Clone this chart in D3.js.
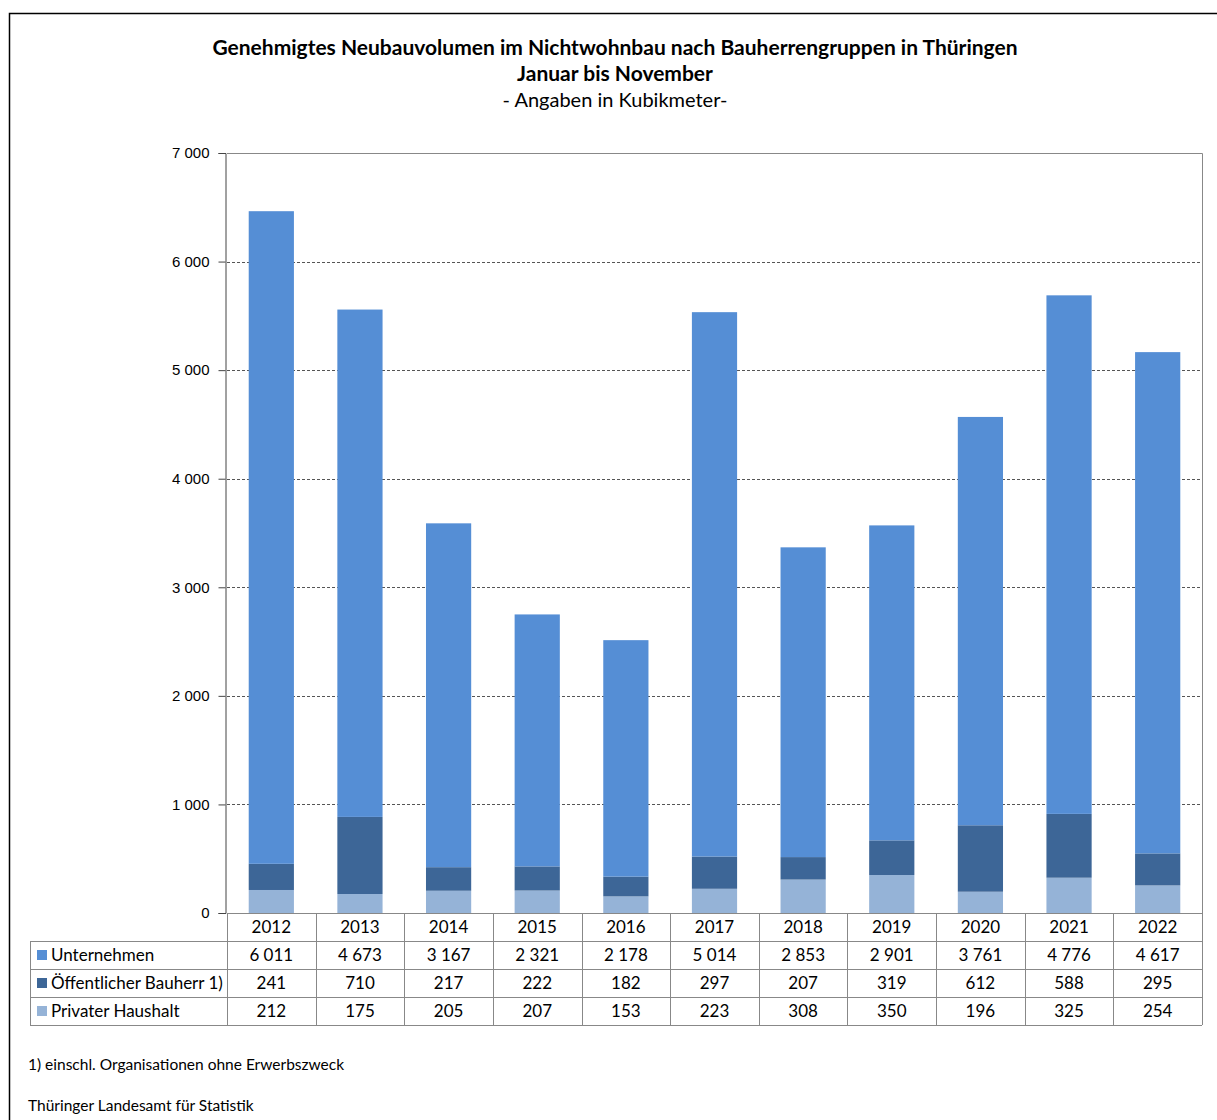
<!DOCTYPE html>
<html lang="de">
<head>
<meta charset="utf-8">
<title>Neubauvolumen Nichtwohnbau</title>
<script src="https://d3js.org/d3.v7.min.js"></script>
<style>
  body { margin: 0; background: #fff; }
  svg text { fill: #000; }
</style>
</head>
<body>
<div id="chart"></div>
<script>
// Data
var years = ["2012","2013","2014","2015","2016","2017","2018","2019","2020","2021","2022"];
var series = ["Privater Haushalt", "Öffentlicher Bauherr 1)", "Unternehmen"];
var unternehmen = [6011, 4673, 3167, 2321, 2178, 5014, 2853, 2901, 3761, 4776, 4617];
var oeffentlich = [241, 710, 217, 222, 182, 297, 207, 319, 612, 588, 295];
var privat = [212, 175, 205, 207, 153, 223, 308, 350, 196, 325, 254];
var yTicks = [0, 1000, 2000, 3000, 4000, 5000, 6000, 7000];

var colors = {
  "Unternehmen": "#558ed5",
  "Öffentlicher Bauherr 1)": "#3d6697",
  "Privater Haushalt": "#95b3d7"
};

var w = 1217, h = 1120;
var mLeft = 227, mRight = 1202, mTop = 153, mBottom = 913;
var rowH = 28;

var fmt = function(v) {
  return d3.format(",")(v).replace(/,/g, " ");
};

var svg = d3.select("#chart").append("svg")
  .attr("width", w).attr("height", h);

// outer frame
svg.append("rect")
  .attr("x", 9.5).attr("y", 13.5)
  .attr("width", w + 10).attr("height", h + 10)
  .attr("fill", "none").attr("stroke", "#000").attr("stroke-width", 1.5);

// titles
var calibri = "Lato, 'Open Sans', sans-serif";
svg.append("text").attr("x", 615).attr("y", 55).attr("text-anchor", "middle")
  .attr("font-family", calibri).attr("font-weight", "bold").attr("font-size", "21px")
  .text("Genehmigtes Neubauvolumen im Nichtwohnbau nach Bauherrengruppen in Thüringen");
svg.append("text").attr("x", 615).attr("y", 81).attr("text-anchor", "middle")
  .attr("font-family", calibri).attr("font-weight", "bold").attr("font-size", "21px")
  .text("Januar bis November");
svg.append("text").attr("x", 615).attr("y", 107).attr("text-anchor", "middle")
  .attr("font-family", calibri).attr("font-size", "20px")
  .text("- Angaben in Kubikmeter-");

// scales
var x = d3.scaleBand().domain(years).range([mLeft, mRight]).paddingInner(0).paddingOuter(0);
var y = d3.scaleLinear().domain([0, 7000]).range([mBottom, mTop]);

// gridlines
svg.append("g").selectAll("line")
  .data(yTicks.filter(function(d) { return d > 0 && d < 7000; }))
  .enter().append("line")
  .attr("x1", mLeft).attr("x2", mRight)
  .attr("y1", function(d) { return Math.round(y(d)) + 0.5; })
  .attr("y2", function(d) { return Math.round(y(d)) + 0.5; })
  .attr("stroke", "#555").attr("stroke-dasharray", "3,2");

// stacked bars
var rows = years.map(function(yr, i) {
  return {
    year: yr,
    "Privater Haushalt": privat[i],
    "Öffentlicher Bauherr 1)": oeffentlich[i],
    "Unternehmen": unternehmen[i]
  };
});
var stack = d3.stack().keys(series)(rows);
var barW = x.bandwidth() * 0.51;

svg.append("g").selectAll("g")
  .data(stack).enter().append("g")
  .attr("fill", function(d) { return colors[d.key]; })
  .selectAll("rect")
  .data(function(d) { return d; })
  .enter().append("rect")
  .attr("x", function(d) { return x(d.data.year) + (x.bandwidth() - barW) / 2; })
  .attr("y", function(d) { return y(d[1]); })
  .attr("width", barW)
  .attr("height", function(d) { return y(d[0]) - y(d[1]); });

// plot frame (top/right)
svg.append("path")
  .attr("d", "M" + mLeft + "," + (mTop + 0.5) + "H" + (mRight + 0.5) + "V" + mBottom)
  .attr("fill", "none").attr("stroke", "#888");

// y axis
var yAxis = svg.append("g")
  .attr("transform", "translate(" + (mLeft - 1.5) + ",0)")
  .call(d3.axisLeft(y).tickValues(yTicks).tickSize(7).tickPadding(9)
    .tickFormat(function(d) { return fmt(d); }));
yAxis.select(".domain").attr("stroke", "#444");
yAxis.selectAll(".tick line").attr("stroke", "#444");
yAxis.selectAll("text").attr("font-family", "'Liberation Sans', Arial, sans-serif")
  .attr("font-size", "15px").attr("fill", "#000");

// data table
var table = svg.append("g").attr("font-family", calibri).attr("font-size", "17px");
var tLeft = 30;
var lineColor = "#888";

// horizontal lines
table.append("line").attr("x1", mLeft).attr("x2", mRight).attr("y1", mBottom + 0.5).attr("y2", mBottom + 0.5)
  .attr("stroke", lineColor);
[1, 2, 3, 4].forEach(function(r) {
  table.append("line").attr("x1", tLeft).attr("x2", mRight)
    .attr("y1", mBottom + r * rowH + 0.5).attr("y2", mBottom + r * rowH + 0.5)
    .attr("stroke", lineColor);
});
// vertical lines
years.forEach(function(yr) {
  table.append("line").attr("x1", Math.round(x(yr)) + 0.5).attr("x2", Math.round(x(yr)) + 0.5)
    .attr("y1", mBottom).attr("y2", mBottom + 4 * rowH).attr("stroke", lineColor);
});
table.append("line").attr("x1", mRight + 0.5).attr("x2", mRight + 0.5)
  .attr("y1", mBottom).attr("y2", mBottom + 4 * rowH).attr("stroke", lineColor);
table.append("line").attr("x1", tLeft + 0.5).attr("x2", tLeft + 0.5)
  .attr("y1", mBottom + rowH).attr("y2", mBottom + 4 * rowH).attr("stroke", lineColor);

// header: years
table.selectAll("text.yr").data(years).enter().append("text")
  .attr("class", "yr")
  .attr("x", function(d) { return x(d) + x.bandwidth() / 2; })
  .attr("y", mBottom + rowH / 2 + 6)
  .attr("text-anchor", "middle")
  .text(function(d) { return d; });

var tableRows = [
  { key: "Unternehmen", values: unternehmen },
  { key: "Öffentlicher Bauherr 1)", values: oeffentlich },
  { key: "Privater Haushalt", values: privat }
];

tableRows.forEach(function(r, i) {
  var cy = mBottom + (i + 1) * rowH + rowH / 2;
  table.append("rect").attr("x", tLeft + 7).attr("y", cy - 5)
    .attr("width", 10).attr("height", 10).attr("fill", colors[r.key]);
  table.append("text").attr("x", tLeft + 21).attr("y", cy + 6).text(r.key);
  table.selectAll("text.v" + i).data(r.values).enter().append("text")
    .attr("class", "v" + i)
    .attr("x", function(d, j) { return x(years[j]) + x.bandwidth() / 2; })
    .attr("y", cy + 6)
    .attr("text-anchor", "middle")
    .text(function(d) { return fmt(d); });
});

// footnotes
svg.append("text").attr("x", 28).attr("y", 1070)
  .attr("font-family", calibri).attr("font-size", "15.5px")
  .text("1) einschl. Organisationen ohne Erwerbszweck");
svg.append("text").attr("x", 28).attr("y", 1111)
  .attr("font-family", calibri).attr("font-size", "15.5px")
  .text("Thüringer Landesamt für Statistik");
</script>
</body>
</html>
